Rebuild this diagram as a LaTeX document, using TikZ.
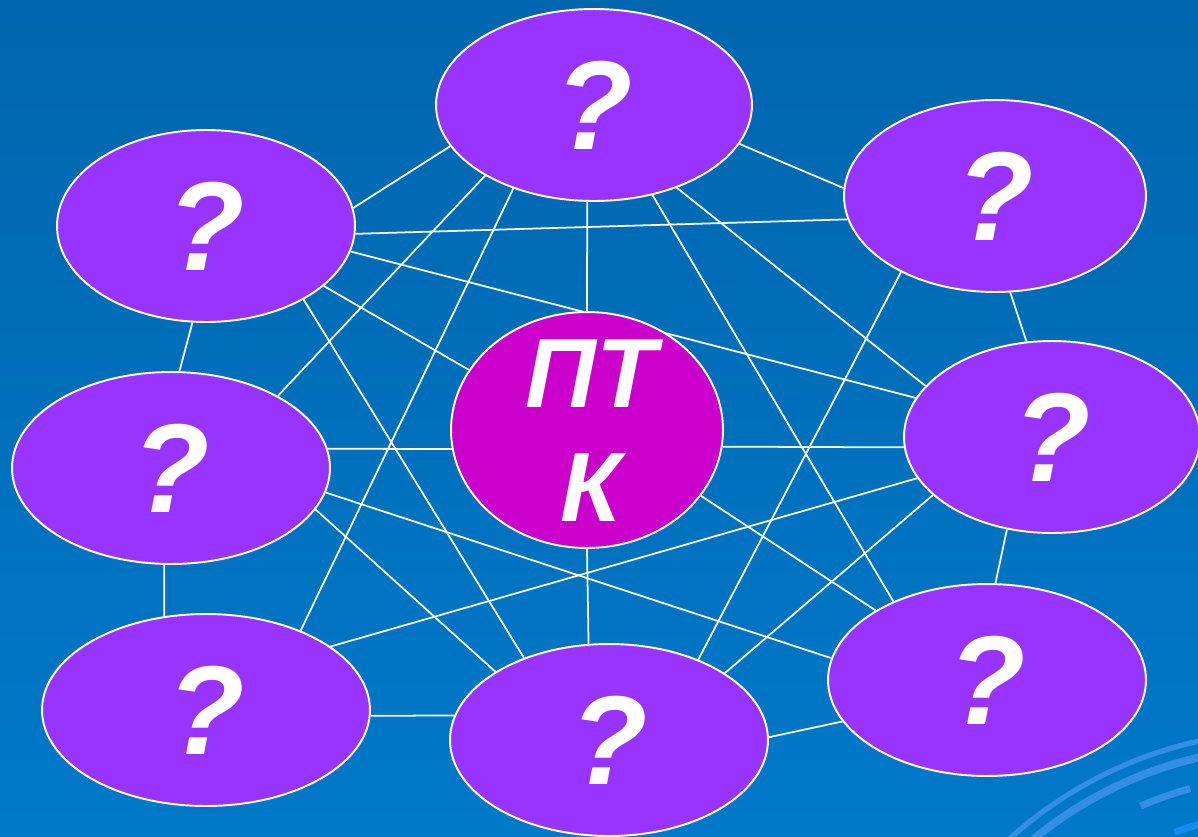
\documentclass[tikz,border=0pt]{standalone}
\usepackage{fontspec}
\setsansfont{Liberation Sans}
\usepackage{tikz}
\usetikzlibrary{positioning,calc,shapes.geometric}

\definecolor{bgtop}{RGB}{0,102,174}
\definecolor{bgbot}{RGB}{0,121,201}
\definecolor{qpurple}{RGB}{153,51,255}
\definecolor{hubmag}{RGB}{204,0,204}
\definecolor{swirl}{RGB}{52,142,228}
\definecolor{swirlb}{RGB}{20,140,235}

\pgfdeclarelayer{background}
\pgfdeclarelayer{edges}
\pgfsetlayers{background,edges,main}

\begin{document}
\begin{tikzpicture}[
    x=0.02cm, y=-0.02cm,
    topic/.style={ellipse, draw=white, line width=1.1pt, fill=qpurple, inner sep=0pt,
        minimum height=3.84cm, text=white, font=\fontsize{72}{72}\selectfont\sffamily\bfseries\itshape},
    hub/.style={ellipse, draw=white, line width=1.1pt, fill=hubmag, inner sep=0pt,
        minimum width=5.44cm, minimum height=4.72cm},
    hubtext/.style={text=white, align=center, inner sep=0pt,
        font=\fontsize{56}{65}\selectfont\sffamily\bfseries\itshape},
    link/.style={draw=white, line width=1pt},
    band/.style={draw=swirl, line cap=butt}
]

\useasboundingbox (0,0) rectangle (1198,836);

% Define node positions
\node[topic, minimum width=6.32cm] (T) at (594,105) {?};
\node[topic, minimum width=5.96cm] (UL) at (206,226) {?};
\node[topic, minimum width=6.04cm] (UR) at (995,196) {?};
\node[topic, minimum width=6.36cm] (ML) at (171,468) {?};
\node[hub] (C) at (587,430) {};
\node[hubtext] (Ctext) at (591,431) {ПТ\\К};
\node[topic, minimum width=5.92cm] (MR) at (1052,437) {?};
\node[topic, minimum width=6.56cm] (LL) at (206,710) {?};
\node[topic, minimum width=6.36cm] (B) at (609,740) {?};
\node[topic, minimum width=6.36cm] (LR) at (987,680) {?};

% Background and swirl
\begin{pgfonlayer}{background}
\shade[top color=bgtop, bottom color=bgbot] (0,0) rectangle (1198,836);
\begin{scope}
\clip (0,0) rectangle (1198,836);
\draw[band, line width=3pt] plot[domain=102:132, samples=30] ({1290+419*cos(\x)},{1150-419*sin(\x)});
\draw[band, line width=4.5pt] plot[domain=77:131, samples=40] ({1290+403*cos(\x)},{1150-403*sin(\x)});
\draw[band, line width=4pt, dash pattern=on 30pt off 14pt] plot[domain=70:115, samples=40] ({1290+375*cos(\x)},{1150-375*sin(\x)});
\draw[swirlb, line width=4pt] plot[domain=72:110, samples=30] ({1290+338*cos(\x)},{1150-338*sin(\x)});
\end{scope}
\end{pgfonlayer}

% Connections between all the topics
\begin{pgfonlayer}{edges}
\draw[link] (T.-164.5) -- (UL.7.8);
\draw[link] (UL.-3.7) -- (UR.-171);
\draw[link] (UL.-10.2) -- (MR.164.6);
\draw[link] (UL.-27.2) -- (C.153.8);
\draw[link] (UL.-37.1) -- (B.136.4);
\draw[link] (UL.-98.6) -- (ML.85.2);
\draw[link] (T.-147.4) -- (ML.34.5);
\draw[link] (T.-134.7) -- (LL.40.4);
\draw[link] (T.-94) -- (C.90);
\draw[link] (T.-57.6) -- (LR.140.4);
\draw[link] (T.-45.3) -- (MR.158.8);
\draw[link] (T.-15.7) -- (UR.177);
\draw[link] (UR.-81.5) -- (MR.105.9);
\draw[link] (UR.-141.9) -- (B.42.9);
\draw[link] (C.-7.6) -- (MR.184.3);
\draw[link] (MR.-163) -- (LL.27.7);
\draw[link] (MR.-154.8) -- (B.30.4);
\draw[link] (MR.-116) -- (LR.85.2);
\draw[link] (ML.7.3) -- (C.-172.4);
\draw[link] (ML.-9.8) -- (LR.172.8);
\draw[link] (ML.-16.3) -- (B.149.2);
\draw[link] (ML.-94.6) -- (LL.114.1);
\draw[link] (LL.-2.8) -- (B.171.9);
\draw[link] (C.-90) -- (B.102.9);
\draw[link] (B.1.8) -- (LR.-164.5);
\draw[link] (C.-30.7) -- (LR.148.7);
\end{pgfonlayer}

\end{tikzpicture}
\end{document}
